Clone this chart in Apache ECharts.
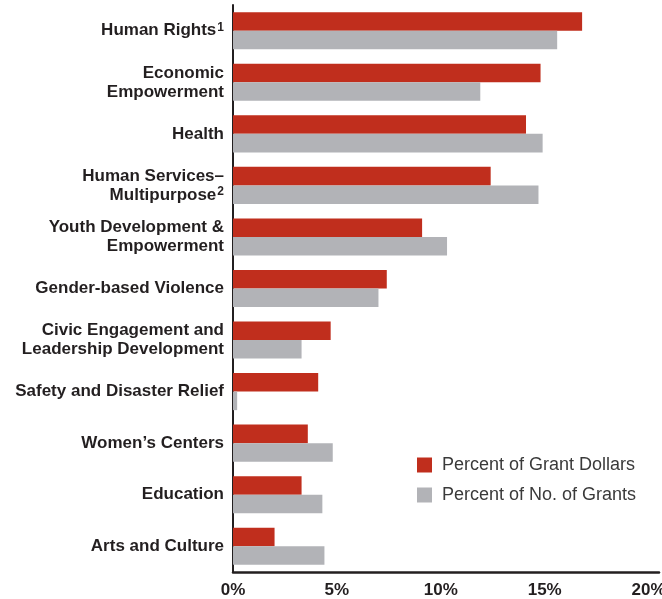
<!DOCTYPE html>
<html>
<head>
<meta charset="utf-8">
<script src="https://cdn.jsdelivr.net/npm/echarts@6/dist/echarts.min.js"></script>
<style>
html,body{margin:0;padding:0;background:#fff;}
#chart{width:662px;height:599px;}
</style>
</head>
<body>
<div id="chart"></div>
<script>
const categories = [
  "Human Rights{sup|1}",
  "Economic\nEmpowerment",
  "Health",
  "Human Services–\nMultipurpose{sup|2}",
  "Youth Development &\nEmpowerment",
  "Gender-based Violence",
  "Civic Engagement and\nLeadership Development",
  "Safety and Disaster Relief",
  "Women’s Centers",
  "Education",
  "Arts and Culture"
];
const grantDollars = [16.8, 14.8, 14.1, 12.4, 9.1, 7.4, 4.7, 4.1, 3.6, 3.3, 2.0];
const numGrants    = [15.6, 11.9, 14.9, 14.7, 10.3, 7.0, 3.3, 0.2, 4.8, 4.3, 4.4];
const seriesNames = ["Percent of Grant Dollars", "Percent of No. of Grants"];
const xTicks = [0, 5, 10, 15, 20];

const chart = echarts.init(document.getElementById('chart'));
const dark = '#231F20';
chart.setOption({
  animation: false,
  backgroundColor: '#fff',
  grid: { left: 233, right: 3, top: 5, bottom: 27, containLabel: false, outerBoundsMode: 'none' },
  legend: {
    orient: 'vertical',
    left: 417,
    top: 456,
    padding: 0,
    itemWidth: 15,
    itemHeight: 15,
    itemGap: 12,
    icon: 'rect',
    textStyle: { fontFamily: 'Liberation Sans', fontSize: 18, color: '#3a3a3a', padding: [0, 0, 0, 5] },
    data: seriesNames
  },
  xAxis: {
    type: 'value',
    min: 0,
    max: 20.5,
    interval: 5,
    splitLine: { show: false },
    axisTick: { show: false },
    axisLine: { show: true, lineStyle: { color: dark, width: 2.5 } },
    axisLabel: {
      margin: 10,
      fontFamily: 'Liberation Sans',
      fontWeight: 'bold',
      fontSize: 17,
      color: dark,
      showMaxLabel: true,
      hideOverlap: false,
      formatter: function (v) { return xTicks.indexOf(v) >= 0 ? v + '%' : ''; }
    }
  },
  yAxis: {
    type: 'category',
    inverse: true,
    data: categories,
    axisTick: { show: false },
    axisLine: { show: true, lineStyle: { color: dark, width: 2 } },
    axisLabel: {
      margin: 9,
      fontFamily: 'Liberation Sans',
      fontWeight: 'bold',
      fontSize: 17,
      lineHeight: 19,
      color: dark,
      align: 'right',
      rich: {
        sup: { fontFamily: 'Liberation Sans', fontWeight: 'bold', fontSize: 12, color: dark, padding: [0, 0, 7, 1] }
      }
    }
  },
  series: [
    {
      name: seriesNames[0], type: 'bar', data: grantDollars,
      itemStyle: { color: '#C02E1D' },
      barGap: '0%', barCategoryGap: '28%'
    },
    {
      name: seriesNames[1], type: 'bar', data: numGrants,
      itemStyle: { color: '#B2B3B7' },
      barGap: '0%', barCategoryGap: '28%'
    }
  ]
});
</script>
</body>
</html>
